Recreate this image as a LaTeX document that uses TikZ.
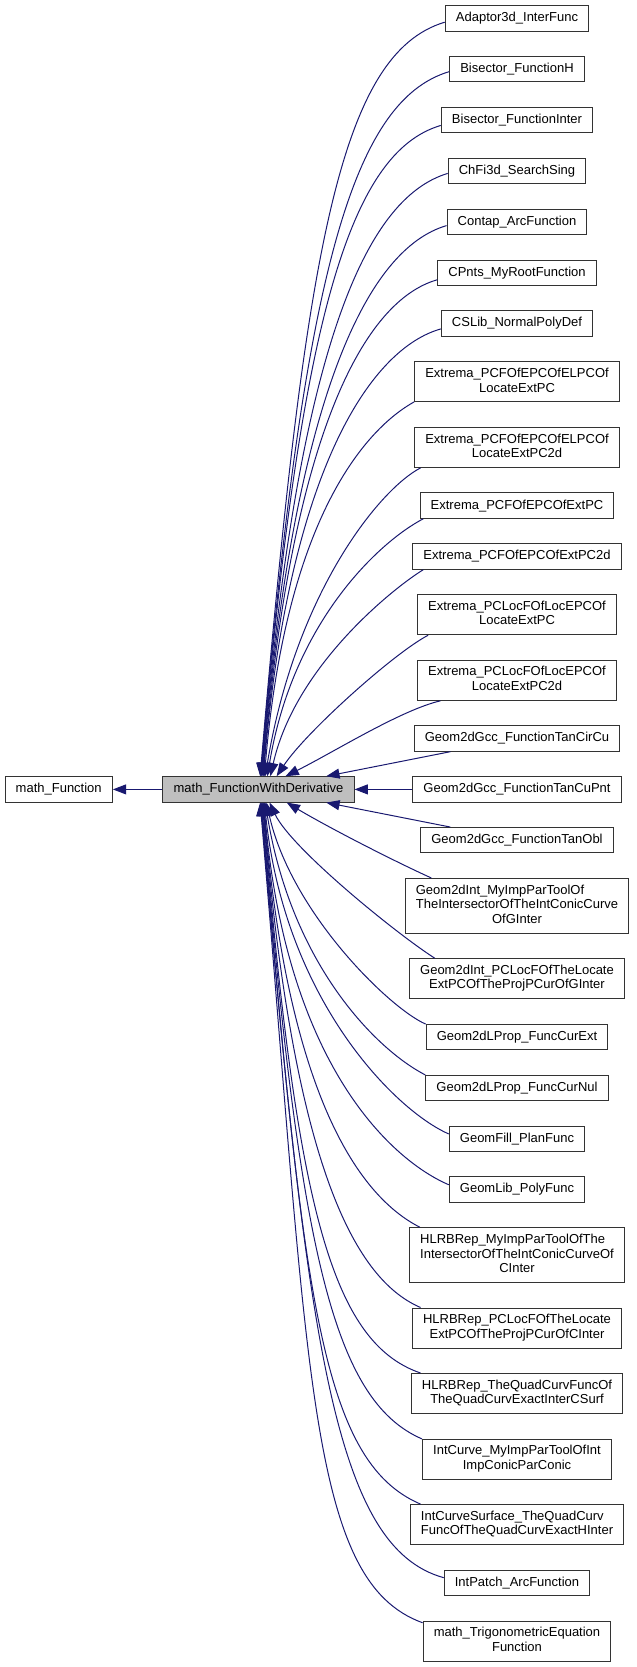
\documentclass[tikz,border=0pt]{standalone}
\usepackage{fontspec}
\setmainfont{Liberation Sans}
\usetikzlibrary{arrows.meta}

\definecolor{edgeblue}{RGB}{25,25,112}
\newcommand{\lbl}[2]{\begin{tabular}{@{}l@{}}#1\\\multicolumn{1}{@{}c@{}}{#2}\end{tabular}}

\tikzset{every picture/.style={line width=0.75pt}}
\tikzset{
  cls/.style={draw=black!80, fill=white, inner xsep=8pt, inner ysep=4pt, minimum height=19pt, font=\fontsize{9.75}{11}\selectfont},
  cur/.style={cls, fill=black!25},
  inh/.style={draw=edgeblue, -{Triangle[length=10pt,width=7.5pt]}, edgeblue}
}

\begin{document}
\begin{tikzpicture}[x=0.75pt,y=0.75pt,yscale=-1,xscale=1]
\useasboundingbox (0,0) rectangle (636,1667);

\draw (58.7,789.4) node [cls] (fn) {math\_Function};
\draw (258.5,789.4) node [cur] (fwd) {math\_FunctionWithDerivative};

\draw (517,18.4) node [cls] (adaptor) {Adaptor3d\_InterFunc};
\draw (517,69.3) node [cls] (bisH) {Bisector\_FunctionH};
\draw (517,120.1) node [cls] (bisI) {Bisector\_FunctionInter};
\draw (517,171.0) node [cls] (chfi) {ChFi3d\_SearchSing};
\draw (517,221.9) node [cls] (contap) {Contap\_ArcFunction};
\draw (517,272.8) node [cls] (cpnts) {CPnts\_MyRootFunction};
\draw (517,323.6) node [cls] (cslib) {CSLib\_NormalPolyDef};
\draw (517,381.9) node [cls] (extA) {\lbl{Extrema\_PCFOfEPCOfELPCOf}{LocateExtPC}};
\draw (517,447.4) node [cls] (extB) {\lbl{Extrema\_PCFOfEPCOfELPCOf}{LocateExtPC2d}};
\draw (517,505.6) node [cls] (extC) {Extrema\_PCFOfEPCOfExtPC};
\draw (517,556.5) node [cls] (extD) {Extrema\_PCFOfEPCOfExtPC2d};
\draw (517,614.7) node [cls] (extE) {\lbl{Extrema\_PCLocFOfLocEPCOf}{LocateExtPC}};
\draw (517,680.3) node [cls] (extF) {\lbl{Extrema\_PCLocFOfLocEPCOf}{LocateExtPC2d}};
\draw (517,738.5) node [cls] (gccA) {Geom2dGcc\_FunctionTanCirCu};
\draw (517,789.4) node [cls] (gccB) {Geom2dGcc\_FunctionTanCuPnt};
\draw (517,840.2) node [cls] (gccC) {Geom2dGcc\_FunctionTanObl};
\draw (517,905.8) node [cls] (g2iA) {\lbl{Geom2dInt\_MyImpParToolOf\\TheIntersectorOfTheIntConicCurve}{OfGInter}};
\draw (517,978.7) node [cls] (g2iB) {\lbl{Geom2dInt\_PCLocFOfTheLocate}{ExtPCOfTheProjPCurOfGInter}};
\draw (517,1036.9) node [cls] (lpropA) {Geom2dLProp\_FuncCurExt};
\draw (517,1087.8) node [cls] (lpropB) {Geom2dLProp\_FuncCurNul};
\draw (517,1138.7) node [cls] (fill) {GeomFill\_PlanFunc};
\draw (517,1189.5) node [cls] (glib) {GeomLib\_PolyFunc};
\draw (517,1255.1) node [cls] (hlrA) {\lbl{HLRBRep\_MyImpParToolOfThe\\IntersectorOfTheIntConicCurveOf}{CInter}};
\draw (517,1328.0) node [cls] (hlrB) {\lbl{HLRBRep\_PCLocFOfTheLocate}{ExtPCOfTheProjPCurOfCInter}};
\draw (517,1393.5) node [cls] (hlrC) {\lbl{HLRBRep\_TheQuadCurvFuncOf}{TheQuadCurvExactInterCSurf}};
\draw (517,1459.1) node [cls] (icurve) {\lbl{IntCurve\_MyImpParToolOfInt}{ImpConicParConic}};
\draw (517,1524.6) node [cls] (icsurf) {\lbl{IntCurveSurface\_TheQuadCurv}{FuncOfTheQuadCurvExactHInter}};
\draw (517,1582.8) node [cls] (ipatch) {IntPatch\_ArcFunction};
\draw (517,1641.1) node [cls] (trig) {\lbl{math\_TrigonometricEquation}{Function}};

\draw [inh] (fwd) -- (fn);

\draw [inh] (adaptor.183) .. controls (339.7,53.7) and (305.3,248.5) .. (fwd.83);
\draw [inh] (bisH.182) .. controls (350,101.3) and (302.8,283.3) .. (fwd.81);
\draw [inh] (bisI.184) .. controls (349.3,152.4) and (300.1,320.6) .. (fwd.79);
\draw [inh] (chfi.182) .. controls (363,199) and (297.7,354.7) .. (fwd.77);
\draw [inh] (contap.183) .. controls (368.9,248.2) and (295.1,390.6) .. (fwd.75);
\draw [inh] (cpnts.185) .. controls (365.6,300.2) and (292.4,428.6) .. (fwd.72);
\draw [inh] (cslib.184) .. controls (373.3,347.8) and (289.9,463.4) .. (fwd.70);
\draw [inh] (extA.191) .. controls (367.4,428) and (286.5,514.3) .. (fwd.66);
\draw [inh] (extB.192) .. controls (380.6,488.4) and (296,591) .. (fwd.63);
\draw [inh] (extC.188) .. controls (379.4,541.6) and (292.9,621.8) .. (fwd.56);
\draw [inh] (extD.188) .. controls (392,589) and (295,667) .. (fwd.48);
\draw [inh] (extE.193) .. controls (394,653) and (306,732) .. (fwd.36);
\draw [inh] (extF.195) .. controls (401,710) and (334,752) .. (fwd.26);
\draw [inh] (gccA) -- (fwd.11);
\draw [inh] (gccB) -- (fwd);
\draw [inh] (gccC) -- (fwd.-11);
\draw [inh] (g2iA.162) .. controls (389,858.7) and (326,826) .. (fwd.-25);
\draw [inh] (g2iB.166) .. controls (395,932.7) and (291,848) .. (fwd.-50);
\draw [inh] (lpropA.172) .. controls (389,1008) and (291,912) .. (fwd.-59);
\draw [inh] (lpropB.172) .. controls (377,1050) and (292,966) .. (fwd.-63);
\draw [inh] (fill.176) .. controls (396,1111) and (285,1001) .. (fwd.-66);
\draw [inh] (glib.176) .. controls (395.4,1162) and (286.5,1070) .. (fwd.-68);
\draw [inh] (hlrA.164) .. controls (360.5,1197) and (288.5,1099.5) .. (fwd.-70);
\draw [inh] (hlrB.168) .. controls (351.2,1277.7) and (292.8,1156) .. (fwd.-72);
\draw [inh] (hlrC.168) .. controls (330,1342) and (296.3,1202) .. (fwd.-74);
\draw [inh] (icurve.168) .. controls (332,1400) and (299.5,1247) .. (fwd.-77);
\draw [inh] (icsurf.168) .. controls (320,1461) and (303,1293) .. (fwd.-79);
\draw [inh] (ipatch.176) .. controls (334.3,1547.3) and (307.1,1345.4) .. (fwd.-81);
\draw [inh] (trig.169) .. controls (308.2,1581.3) and (309.2,1376) .. (fwd.-83);

\end{tikzpicture}
\end{document}
